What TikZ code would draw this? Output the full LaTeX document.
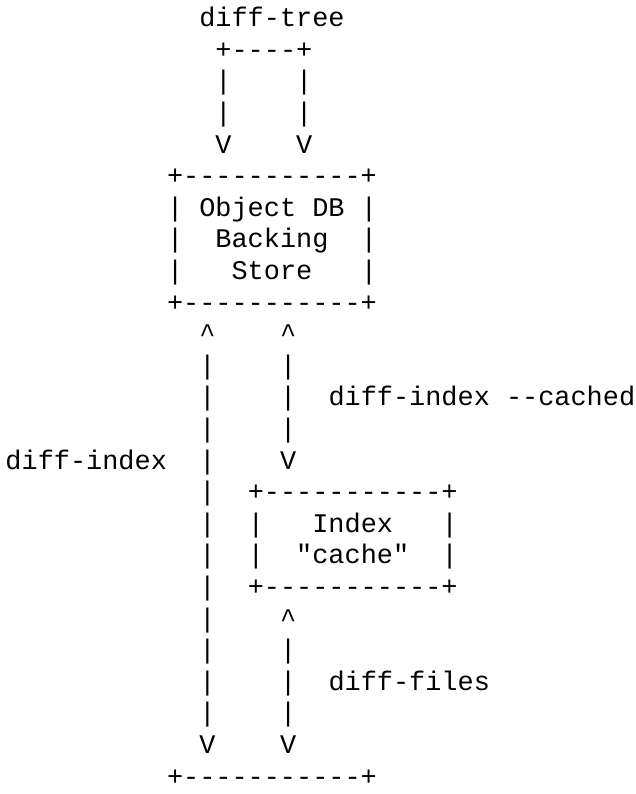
\documentclass[tikz,border=0pt]{standalone}
\usepackage{fontspec}
\setmonofont{Liberation Mono}
\usepackage{tikz}
\tikzset{
  ascii/.style={
    anchor=base west,
    inner sep=0pt,
    outer sep=0pt,
    font=\ttfamily\fontsize{26.9}{31.6}\selectfont,
  },
  label/.style={
    ascii
  }
}

\begin{document}
\begin{tikzpicture}[x=16.15pt, y=-31.6pt]
  \useasboundingbox (-5.5pt,26.7pt) rectangle (629.5pt,-767.3pt);

  % diff-tree loop
  \node[label] (tree) at (12,0) {diff-tree};
  \node[ascii] (treetop) at (13,1) {+----+};
  \foreach \r in {2,3} {
    \node[ascii] (treel\r) at (13,\r) {|};
    \node[ascii] (treer\r) at (18,\r) {|};
  }
  \node[ascii] (treeva) at (13,4) {V};
  \node[ascii] (treevb) at (18,4) {V};

  % object db box
  \node[ascii] (dbtop) at (10,5) {+-----------+};
  \foreach \r in {6,7,8} {
    \node[ascii] (dbl\r) at (10,\r) {|};
    \node[ascii] (dbr\r) at (22,\r) {|};
  }
  \node[ascii] (dbname) at (12,6) {Object DB};
  \node[ascii] (dbback) at (13,7) {Backing};
  \node[ascii] (dbstore) at (14,8) {Store};
  \node[ascii] (dbbot) at (10,9) {+-----------+};

  % diff-index and diff-index --cached
  \node[ascii] (upa) at (12,10) {\^{}};
  \node[ascii] (upb) at (17,10) {\^{}};
  \foreach \r in {11,...,22} {
    \node[ascii] (idxl\r) at (12,\r) {|};
  }
  \foreach \r in {11,12,13} {
    \node[ascii] (cachedl\r) at (17,\r) {|};
  }
  \node[label] (cached) at (20,12) {diff-index -{}-cached};
  \node[label] (diffidx) at (0,14) {diff-index};
  \node[ascii] (cacheddn) at (17,14) {V};

  % index box
  \node[ascii] (ixtop) at (15,15) {+-----------+};
  \foreach \r in {16,17} {
    \node[ascii] (ixl\r) at (15,\r) {|};
    \node[ascii] (ixr\r) at (27,\r) {|};
  }
  \node[ascii] (ixname) at (19,16) {Index};
  \node[ascii] (ixcache) at (18,17) {"cache"};
  \node[ascii] (ixbot) at (15,18) {+-----------+};

  % diff-files
  \node[ascii] (upc) at (17,19) {\^{}};
  \foreach \r in {20,21,22} {
    \node[ascii] (filesl\r) at (17,\r) {|};
  }
  \node[label] (files) at (20,21) {diff-files};
  \node[ascii] (dna) at (12,23) {V};
  \node[ascii] (dnb) at (17,23) {V};
  \node[ascii] (wtop) at (10,24) {+-----------+};
\end{tikzpicture}
\end{document}
